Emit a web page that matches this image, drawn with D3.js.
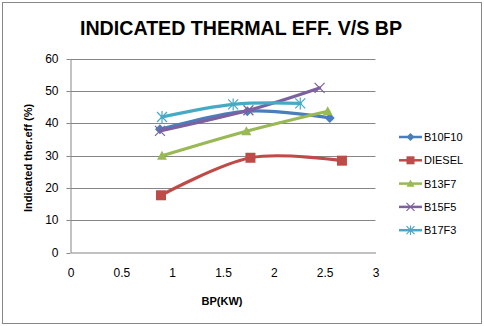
<!DOCTYPE html>
<html><head><meta charset="utf-8">
<script src="https://cdn.jsdelivr.net/npm/d3@7"></script>
<style>body{margin:0;background:#fff}svg{display:block}</style>
</head><body>
<script>
const seriesNames = ["B10F10","DIESEL","B13F7","B15F5","B17F3"];
const colors = ["#4A7EBB","#BE4B48","#98B954","#7D60A0","#46AAC5"];
const markers = ["diamond","square","triangle","x","asterisk"];
const bpB10F10 = [0.88,1.74,2.55], effB10F10 = [38.1,43.7,41.6];
const bpDIESEL = [0.89,1.77,2.67], effDIESEL = [17.7,29.3,28.4];
const bpB13F7  = [0.90,1.73,2.53], effB13F7  = [29.9,37.5,43.7];
const bpB15F5  = [0.88,1.75,2.45], effB15F5  = [37.6,44.0,50.9];
const bpB17F3  = [0.90,1.60,2.26], effB17F3  = [41.9,45.8,46.1];
const xTicks = [0,0.5,1,1.5,2,2.5,3];
const yTicks = [0,10,20,30,40,50,60];
const title = "INDICATED THERMAL EFF. V/S BP";
const xTitle = "BP(KW)";
const yTitle = "Indicated ther.eff (%)";

const bps = [bpB10F10,bpDIESEL,bpB13F7,bpB15F5,bpB17F3];
const effs = [effB10F10,effDIESEL,effB13F7,effB15F5,effB17F3];
const series = seriesNames.map((n,i)=>({name:n,color:colors[i],marker:markers[i],
  pts:bps[i].map((b,j)=>({x:b,y:effs[i][j]}))}));

const W=484,H=326;
const svg=d3.select("body").append("svg").attr("width",W).attr("height",H);
const font="'Liberation Sans', Arial, sans-serif";
svg.append("rect").attr("x",2.5).attr("y",2.5).attr("width",479).attr("height",321)
  .attr("fill","#fff").attr("stroke","#878787").attr("stroke-width",1);

const x=d3.scaleLinear().domain([0,3]).range([70.5,375.5]);
const y=d3.scaleLinear().domain([0,60]).range([252.5,58.5]);

// gridlines
svg.append("g").selectAll("line").data(yTicks.filter(t=>t>0)).join("line")
  .attr("x1",x(0)).attr("x2",x(3)).attr("y1",d=>Math.round(y(d))+0.5).attr("y2",d=>Math.round(y(d))+0.5)
  .attr("stroke","#868686").attr("stroke-width",1);

// y axis
const ya=svg.append("g").attr("transform",`translate(${x(0)},0)`)
  .call(d3.axisLeft(y).tickValues(yTicks).tickSize(4).tickPadding(8).tickSizeOuter(0));
ya.select(".domain").attr("stroke","#868686");
ya.selectAll(".tick line").attr("stroke","#868686");
ya.selectAll("text").attr("font-family",font).attr("font-size",12).attr("fill","#000");
ya.selectAll(".tick").attr("transform",d=>`translate(0,${Math.round(y(d))+0.5})`);

// x axis
const xa=svg.append("g").attr("transform",`translate(0,${y(0)})`)
  .call(d3.axisBottom(x).tickValues(xTicks).tickSize(0).tickPadding(16).tickFormat(d3.format("")).tickSizeOuter(0));
xa.select(".domain").attr("stroke","#868686");
xa.selectAll("text").attr("font-family",font).attr("font-size",12).attr("fill","#000");

// titles
svg.append("text").attr("x",241).attr("y",35).attr("text-anchor","middle")
  .attr("font-family",font).attr("font-weight","bold").attr("font-size",21)
  .attr("textLength",322).attr("lengthAdjust","spacingAndGlyphs").text(title);
svg.append("text").attr("x",222).attr("y",305).attr("text-anchor","middle")
  .attr("font-family",font).attr("font-weight","bold").attr("font-size",11).text(xTitle);
svg.append("text").attr("transform","translate(32,158) rotate(-90)").attr("text-anchor","middle")
  .attr("font-family",font).attr("font-weight","bold").attr("font-size",11).text(yTitle);

function drawMarker(g,type,color,cx,cy,s){
  if(type==="diamond"){
    g.append("path").attr("d",`M${cx},${cy-s}L${cx+s},${cy}L${cx},${cy+s}L${cx-s},${cy}Z`).attr("fill",color);
  }else if(type==="square"){
    g.append("rect").attr("x",cx-s).attr("y",cy-s).attr("width",2*s).attr("height",2*s).attr("fill",color);
  }else if(type==="triangle"){
    g.append("path").attr("d",`M${cx},${cy-s}L${cx+s},${cy+s*0.8}L${cx-s},${cy+s*0.8}Z`).attr("fill",color);
  }else if(type==="x"){
    g.append("path").attr("d",`M${cx-s},${cy-s}L${cx+s},${cy+s}M${cx-s},${cy+s}L${cx+s},${cy-s}`)
      .attr("stroke",color).attr("stroke-width",1.2);
  }else{
    g.append("path").attr("d",`M${cx-s},${cy-s}L${cx+s},${cy+s}M${cx-s},${cy+s}L${cx+s},${cy-s}M${cx},${cy-s*1.2}L${cx},${cy+s*1.2}`)
      .attr("stroke",color).attr("stroke-width",1.2);
  }
}
const sizes={diamond:5,square:5,triangle:5,x:5,asterisk:5};

const line=d3.line().x(d=>x(d.x)).y(d=>y(d.y)).curve(d3.curveCardinal.tension(0));
const plot=svg.append("g");
series.forEach(s=>{
  plot.append("path").datum(s.pts).attr("d",line).attr("fill","none")
    .attr("stroke",s.color).attr("stroke-width",3.2).attr("stroke-linecap","round");
  s.pts.forEach(p=>drawMarker(plot,s.marker,s.color,x(p.x),y(p.y),sizes[s.marker]));
});

// legend
const lg=svg.append("g");
series.forEach((s,i)=>{
  const yy=137+i*23.3;
  lg.append("line").attr("x1",399).attr("x2",422).attr("y1",yy).attr("y2",yy)
    .attr("stroke",s.color).attr("stroke-width",2.5);
  drawMarker(lg,s.marker,s.color,410.5,yy,s.marker==="x"||s.marker==="asterisk"?4:4);
  lg.append("text").attr("x",424).attr("y",yy+4).attr("font-family",font).attr("font-size",11)
    .attr("fill","#000").text(s.name);
});
</script>
</body></html>
